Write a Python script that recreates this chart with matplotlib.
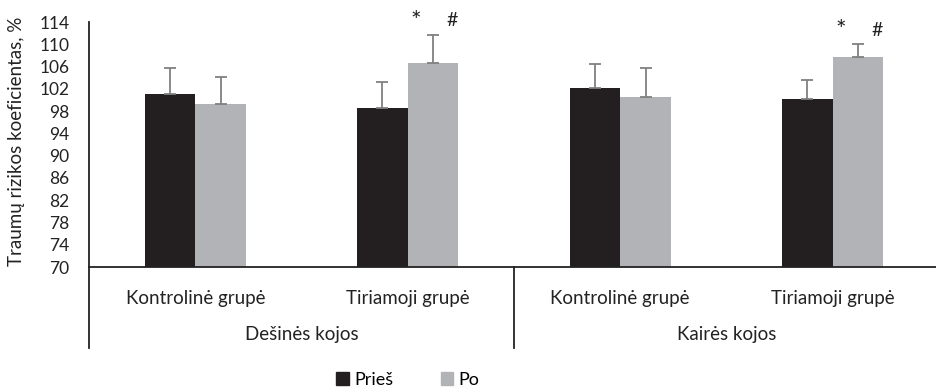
import matplotlib
matplotlib.use("Agg")
import matplotlib.pyplot as plt
import matplotlib.transforms as mtransforms
from matplotlib.patches import Patch

plt.rcParams['font.family'] = ['Lato', 'DejaVu Sans']

categories = ["Kontrolinė grupė", "Tiriamoji grupė", "Kontrolinė grupė", "Tiriamoji grupė"]
groups = ["Dešinės kojos", "Kairės kojos"]
pries = [101.0, 98.5, 102.2, 100.1]
pries_err = [4.7, 4.8, 4.2, 3.5]
po = [99.2, 106.6, 100.6, 107.7]
po_err = [4.9, 5.1, 5.1, 2.3]
yticks = list(range(70, 115, 4))
marks = [(1, "*", "#"), (3, "*", "#")]

fig = plt.figure(figsize=(9.37, 3.88), dpi=100)
ax = fig.add_axes([89/937, 1-267/388, 850/937, 245/388])

w = 0.238
x = list(range(len(categories)))
black = "#231f20"
gray = "#b2b3b6"
ecol = "#808080"
ekw = dict(ecolor=ecol, elinewidth=1.3, capsize=4.5, capthick=1.3)
ax.bar([i - w/2 for i in x], pries, width=w, color=black,
       yerr=[[0]*4, pries_err], error_kw=ekw, zorder=2)
ax.bar([i + w/2 for i in x], po, width=w, color=gray,
       yerr=[[0]*4, po_err], error_kw=ekw, zorder=2)

ax.set_ylim(70, 114)
ax.set_xlim(-0.5, 3.5)
ax.set_yticks(yticks)
ax.tick_params(axis='y', length=0, pad=14, labelsize=12.5, labelcolor='#222222')
ax.set_xticks([])
for s in ['top', 'right']:
    ax.spines[s].set_visible(False)
for s in ['left', 'bottom']:
    ax.spines[s].set_linewidth(1.3)
    ax.spines[s].set_color('#222222')

trans = mtransforms.blended_transform_factory(ax.transData, ax.transAxes)
for i, c in enumerate(categories):
    ax.text(i, -0.13, c, transform=trans, ha='center', va='center', fontsize=13.5, color='#222222')
for g, name in enumerate(groups):
    ax.text(2*g + 0.5, -0.275, name, transform=trans, ha='center', va='center', fontsize=13.5, color='#222222')
for xv in [-0.5, 1.5]:
    ax.plot([xv, xv], [0, -0.33], transform=trans, color='#222222', lw=1.3, clip_on=False)

for i, a, b in marks:
    top = po[i] + po_err[i]
    ax.text(i + 0.04, top + 2.4, a, ha='center', va='center', fontsize=18, color='#222222', clip_on=False)
    ax.text(i + 0.21, top + 2.5, b, ha='center', va='center', fontsize=14, color='#222222', clip_on=False)

ax.set_ylabel("Traumų rizikos koeficientas, %", fontsize=13.5, color='#222222')
ax.yaxis.set_label_coords(-64/850, 0.515)

handles = [Patch(color=black, label="Prieš"), Patch(color=gray, label="Po")]
fig.legend(handles=handles, loc='center', bbox_to_anchor=(408/937, 1-380/388), ncol=2,
           frameon=False, fontsize=13, handlelength=0.7, handleheight=0.7,
           handletextpad=0.3, columnspacing=2.6)

fig.savefig("out.png", dpi=100)
